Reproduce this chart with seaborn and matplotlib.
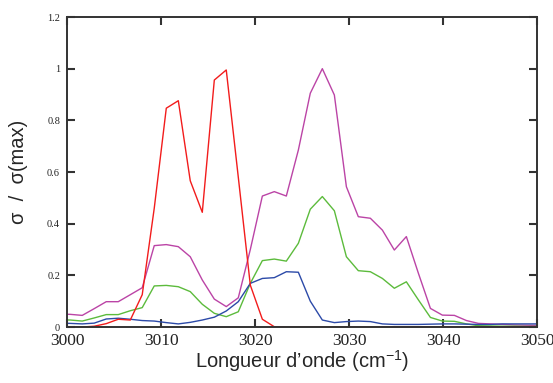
"""
Normalised cross-section sigma/sigma(max) versus wavenumber (3000-3050 cm-1).
Four spectra drawn as plain lines, gnuplot-like frame with inward ticks.

Output: out.png
"""

import matplotlib.pyplot as plt
import pandas as pd
import seaborn as sns
from matplotlib.ticker import FuncFormatter

WAVENUMBER = [
    2999.06, 3000.34, 3001.62, 3002.89, 3004.17, 3005.45, 3006.73, 3008.00,
    3009.28, 3010.56, 3011.84, 3013.11, 3014.39, 3015.67, 3016.94, 3018.22,
    3019.50, 3020.78, 3022.05, 3023.33, 3024.61, 3025.88, 3027.16, 3028.44,
    3029.72, 3030.99, 3032.27, 3033.55, 3034.82, 3036.10, 3037.38, 3038.66,
    3039.93, 3041.21, 3042.49, 3043.76, 3045.04, 3046.32, 3047.60, 3048.87,
    3050.15,
]

PURPLE = [
    0.050, 0.049, 0.045, 0.071, 0.098, 0.098, 0.125, 0.152, 0.315, 0.319,
    0.311, 0.272, 0.182, 0.108, 0.079, 0.113, 0.300, 0.507, 0.524, 0.507,
    0.685, 0.905, 1.000, 0.898, 0.543, 0.427, 0.421, 0.375, 0.298, 0.350,
    0.208, 0.072, 0.046, 0.045, 0.025, 0.014, 0.012, 0.010, 0.008, 0.007,
    0.006,
]
GREEN = [
    0.028, 0.027, 0.023, 0.035, 0.048, 0.048, 0.063, 0.075, 0.159, 0.161,
    0.156, 0.137, 0.088, 0.053, 0.040, 0.059, 0.169, 0.257, 0.263, 0.255,
    0.324, 0.456, 0.505, 0.450, 0.272, 0.218, 0.214, 0.188, 0.150, 0.175,
    0.105, 0.037, 0.023, 0.022, 0.012, 0.005, 0.004, 0.003, 0.003, 0.002,
    0.002,
]
BLUE = [
    0.015, 0.014, 0.012, 0.015, 0.031, 0.034, 0.030, 0.025, 0.023, 0.017,
    0.012, 0.018, 0.027, 0.038, 0.062, 0.098, 0.169, 0.188, 0.191, 0.214,
    0.212, 0.100, 0.027, 0.017, 0.021, 0.023, 0.021, 0.012, 0.010, 0.010,
    0.010, 0.011, 0.012, 0.012, 0.011, 0.010, 0.010, 0.012, 0.012, 0.012,
    0.012,
]
RED = [
    0.000, 0.000, 0.000, 0.003, 0.013, 0.030, 0.027, 0.125, 0.460, 0.847,
    0.876, 0.566, 0.444, 0.956, 0.995, 0.580, 0.162, 0.030, 0.001, 0.000,
    0.000, 0.000, 0.000, 0.000, 0.000, 0.000, 0.000, 0.000, 0.000, 0.000,
    0.000, 0.000, 0.000, 0.000, 0.000, 0.000, 0.000, 0.000, 0.000, 0.000,
    0.000,
]

SERIES = {"purple": PURPLE, "green": GREEN, "blue": BLUE, "red": RED}
COLORS = {"purple": "#bb44a6", "green": "#5cbb3c", "blue": "#2c4aa8", "red": "#f21c1c"}

X_TICKS = [3000, 3010, 3020, 3030, 3040, 3050]
Y_TICKS = [0, 0.2, 0.4, 0.6, 0.8, 1.0, 1.2]


def main() -> None:
    df = pd.concat(
        [pd.DataFrame({"x": WAVENUMBER, "y": vals, "s": name}) for name, vals in SERIES.items()],
        ignore_index=True,
    )

    sns.set_style("ticks")
    plt.rcParams.update({
        "font.family": ["Liberation Sans", "DejaVu Sans"],
        "mathtext.fontset": "custom",
        "mathtext.rm": "Liberation Sans",
        "mathtext.it": "Liberation Sans",
        "xtick.direction": "in",
        "ytick.direction": "in",
        "xtick.top": True,
        "ytick.right": True,
        "xtick.major.size": 6,
        "ytick.major.size": 6,
        "xtick.major.width": 1.5,
        "ytick.major.width": 1.5,
        "xtick.color": "#333333",
        "ytick.color": "#333333",
    })

    fig = plt.figure(figsize=(5.53, 3.83), dpi=100)
    ax = fig.add_axes([0.1212, 0.1462, 0.8499, 0.8094])

    sns.lineplot(data=df, x="x", y="y", hue="s", palette=COLORS, sort=False,
                 linewidth=1.0, legend=False, ax=ax)

    ax.set_xlim(3000, 3050)
    ax.set_ylim(0, 1.2)
    ax.set_xticks(X_TICKS)
    ax.set_yticks(Y_TICKS)
    ax.yaxis.set_major_formatter(FuncFormatter(lambda v, _: f"{v:g}"))

    for side in ["left", "right", "top", "bottom"]:
        ax.spines[side].set_visible(True)
        ax.spines[side].set_color("#333333")
        ax.spines[side].set_linewidth(1.4)

    ax.tick_params(axis="both", direction="in", top=True, right=True,
                   length=6, width=1.5, color="#333333")
    ax.tick_params(axis="x", labelsize=12.5, pad=4)
    ax.tick_params(axis="y", labelsize=7.5, pad=5)
    for lab in ax.get_xticklabels() + ax.get_yticklabels():
        lab.set_family(["Liberation Serif", "DejaVu Serif"])
        lab.set_color("#222222")

    ax.set_xlabel("Longueur d\u2019onde (cm$^{-1}$)", fontsize=14.5, labelpad=0)
    ax.set_ylabel("\u03c3  /  \u03c3(max)", fontsize=14.5, labelpad=14)

    fig.savefig("out.png", dpi=100)
    plt.close(fig)


if __name__ == "__main__":
    main()
